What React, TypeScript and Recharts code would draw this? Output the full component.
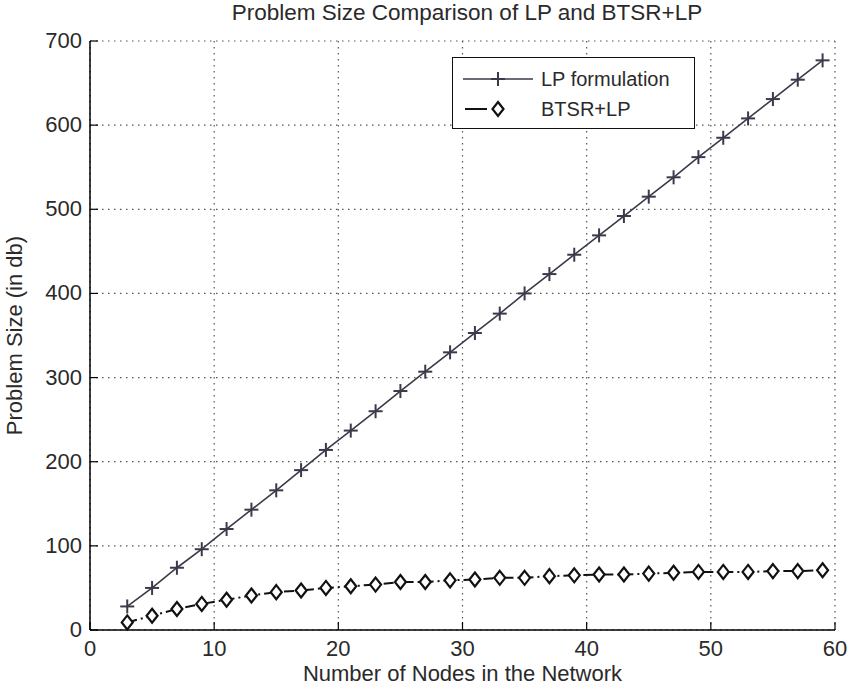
import { CartesianGrid, Legend, Line, LineChart, XAxis, YAxis } from 'recharts'

const nodes = [3, 5, 7, 9, 11, 13, 15, 17, 19, 21, 23, 25, 27, 29, 31, 33, 35, 37, 39, 41, 43, 45, 47, 49, 51, 53, 55, 57, 59]
const lpSize = [28, 50, 74, 96, 120, 143, 166, 190, 214, 237, 260, 284, 307, 330, 353, 376, 400, 423, 446, 469, 492, 515, 538, 562, 585, 608, 631, 654, 677]
const btsrSize = [9, 17, 25, 31, 36, 41, 45, 47, 50, 52, 54, 57, 57, 59, 60, 62, 62, 64, 65, 66, 66, 67, 68, 69, 69, 69, 70, 70, 71]

const xTicks = [0, 10, 20, 30, 40, 50, 60]
const yTicks = [0, 100, 200, 300, 400, 500, 600, 700]

const data = nodes.map((n, i) => ({ n, lp: lpSize[i], btsr: btsrSize[i] }))

const FONT = '"Liberation Sans", Arial, sans-serif'
const TEXT = '#2a2a2a'
const LP_COLOR = '#3a3a4a'
const BTSR_COLOR = '#111'

const BottomTick = ({ x, y, payload }: any) => (
  <g>
    <line x1={x} y1={y} x2={x} y2={y - 8} stroke="#000" strokeWidth={1.2} />
    <text x={x} y={y + 26} textAnchor="middle" fontSize={22} fontFamily={FONT} fill={TEXT}>
      {payload.value}
    </text>
  </g>
)

const LeftTick = ({ x, y, payload }: any) => (
  <g>
    <line x1={x} y1={y} x2={x + 8} y2={y} stroke="#000" strokeWidth={1.2} />
    <text x={x - 8} y={y + 7} textAnchor="end" fontSize={22} fontFamily={FONT} fill={TEXT}>
      {payload.value}
    </text>
  </g>
)

const TopTick = ({ x, y }: any) => <line x1={x} y1={y} x2={x} y2={y + 8} stroke="#000" strokeWidth={1.2} />
const RightTick = ({ x, y }: any) => <line x1={x} y1={y} x2={x - 8} y2={y} stroke="#000" strokeWidth={1.2} />

const PlusDot = ({ cx, cy }: any) => (
  <g stroke={LP_COLOR} strokeWidth={2}>
    <line x1={cx - 7} y1={cy} x2={cx + 7} y2={cy} />
    <line x1={cx} y1={cy - 7} x2={cx} y2={cy + 7} />
  </g>
)

const DiamondDot = ({ cx, cy }: any) => (
  <polygon
    points={`${cx},${cy - 7} ${cx + 5.5},${cy} ${cx},${cy + 7} ${cx - 5.5},${cy}`}
    fill="#fff"
    stroke={BTSR_COLOR}
    strokeWidth={2.2}
  />
)

const LegendBox = () => (
  <div style={{ width: 243, height: 72, border: '1.5px solid #111', background: '#fff', boxSizing: 'border-box' }}>
    <svg width={240} height={69} style={{ display: 'block' }}>
      <line x1={10} y1={21} x2={80} y2={21} stroke={LP_COLOR} strokeWidth={1.6} />
      <PlusDot cx={45} cy={21} />
      <text x={88} y={28} fontSize={20} fontFamily={FONT} fill={TEXT}>LP formulation</text>
      <line x1={12} y1={51} x2={83} y2={51} stroke={BTSR_COLOR} strokeWidth={2} strokeDasharray="22 6 2 4 2 40" />
      <DiamondDot cx={45} cy={51} />
      <text x={88} y={58} fontSize={20} fontFamily={FONT} fill={TEXT}>BTSR+LP</text>
    </svg>
  </div>
)

export default function App() {
  return (
    <div style={{ position: 'absolute', left: 0, top: 0, width: 849, height: 698, background: '#fff' }}>
      <LineChart width={849} height={698} data={data} margin={{ top: 41, right: 14, left: 0, bottom: 0 }}>
        <text x={467} y={20} textAnchor="middle" fontSize={22.5} fontFamily={FONT} fill={TEXT}>
          Problem Size Comparison of LP and BTSR+LP
        </text>
        <CartesianGrid stroke="#555" strokeWidth={1.2} strokeDasharray="1.5 4.5" />
        <XAxis
          dataKey="n"
          type="number"
          domain={[0, 60]}
          ticks={xTicks}
          height={68}
          tickSize={0}
          tickMargin={0}
          tick={<BottomTick />}
          tickLine={false}
          axisLine={{ stroke: '#000', strokeWidth: 1.5 }}
          label={{ value: 'Number of Nodes in the Network', position: 'insideBottom', offset: 17, fontSize: 22, fontFamily: FONT, fill: TEXT }}
        />
        <XAxis
          xAxisId="top"
          orientation="top"
          dataKey="n"
          type="number"
          domain={[0, 60]}
          ticks={xTicks}
          height={0}
          tickSize={0}
          tickMargin={0}
          tick={<TopTick />}
          tickLine={false}
          axisLine={{ stroke: '#000', strokeWidth: 1.5 }}
        />
        <YAxis
          type="number"
          domain={[0, 700]}
          ticks={yTicks}
          width={90}
          tickSize={0}
          tickMargin={0}
          tick={<LeftTick />}
          tickLine={false}
          axisLine={{ stroke: '#000', strokeWidth: 1.5 }}
          label={{ value: 'Problem Size (in db)', angle: -90, position: 'insideLeft', offset: 14, fontSize: 22, fontFamily: FONT, fill: TEXT, style: { textAnchor: 'middle' } }}
        />
        <YAxis
          yAxisId="right"
          orientation="right"
          type="number"
          domain={[0, 700]}
          ticks={yTicks}
          width={0}
          tickSize={0}
          tickMargin={0}
          tick={<RightTick />}
          tickLine={false}
          axisLine={{ stroke: '#000', strokeWidth: 1.5 }}
        />
        <Legend
          layout="horizontal"
          verticalAlign="middle"
          align="center"
          content={<LegendBox />}
          wrapperStyle={{ left: 452, top: 57, width: 243, height: 72 }}
        />
        <Line
          dataKey="lp"
          name="LP formulation"
          stroke={LP_COLOR}
          strokeWidth={1.6}
          dot={<PlusDot />}
          activeDot={false}
          isAnimationActive={false}
        />
        <Line
          dataKey="btsr"
          name="BTSR+LP"
          stroke={BTSR_COLOR}
          strokeWidth={2}
          strokeDasharray="10 4 2 4"
          dot={<DiamondDot />}
          activeDot={false}
          isAnimationActive={false}
        />
      </LineChart>
    </div>
  )
}
